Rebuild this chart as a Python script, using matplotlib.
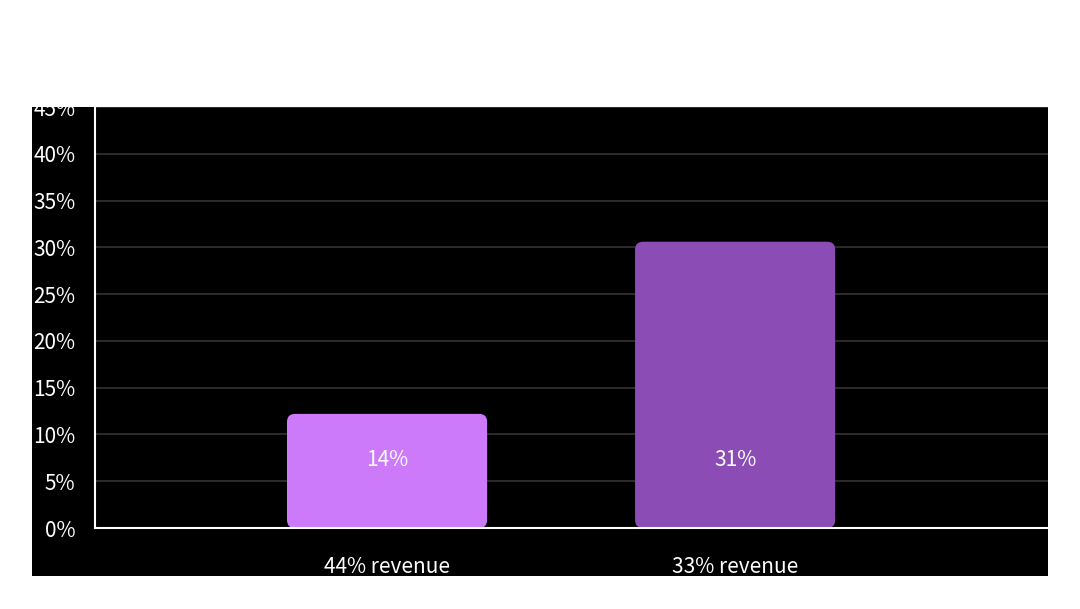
import matplotlib
matplotlib.use("Agg")
import matplotlib.pyplot as plt
from matplotlib.patches import FancyBboxPatch, Rectangle

categories = ["44% revenue", "33% revenue"]
values = [12.2, 30.6]
value_labels = ["14%", "31%"]
colors = ["#CC7AFA", "#8B4DB5"]
yticks = [0, 5, 10, 15, 20, 25, 30, 35, 40, 45]

plt.rcParams["font.family"] = "Noto Sans CJK JP"
fig = plt.figure(figsize=(10.8, 6.09), dpi=100)
fig.patch.set_facecolor("white")
fig.patches.append(Rectangle((0.0296, 0.0542), 0.9407, 0.770, transform=fig.transFigure,
                             facecolor="black", edgecolor="none", zorder=-5))
ax = fig.add_axes([0.088, 0.133, 0.8824, 0.6913])
ax.set_zorder(1)
ax.set_facecolor("black")
ax.set_xlim(-0.839, 1.899)
ax.set_ylim(0, 45)
for y in yticks[1:]:
    ax.axhline(y, color="#333333", lw=1.2, zorder=1)
w = 0.575
bars = ax.bar(range(len(values)), values, width=w, color="none")
xr = 2.738 / 953.0
yr = 45 / 421.0
for b, c in zip(bars, colors):
    x0, h = b.get_x(), b.get_height()
    p = FancyBboxPatch((x0, 0), w, h, boxstyle="round,pad=0,rounding_size=%f" % (8 * xr),
                       mutation_aspect=yr / xr, facecolor=c, edgecolor="none", zorder=2)
    ax.add_patch(p)
for i, t in enumerate(value_labels):
    ax.text(i, 7.3, t, color="white", ha="center", va="center", fontsize=15, zorder=3)
ax.set_xticks(range(len(categories)))
ax.set_xticklabels(categories, color="white", fontsize=15)
ax.tick_params(axis="x", length=0, pad=20)
ax.set_yticks(yticks)
ax.set_yticklabels([f"{v}%" for v in yticks], color="white", fontsize=15)
ax.tick_params(axis="y", length=0, pad=14)
for s in ["top", "right"]:
    ax.spines[s].set_visible(False)
for s in ["left", "bottom"]:
    ax.spines[s].set_color("white")
    ax.spines[s].set_linewidth(1.5)
fig.savefig("out.png", dpi=100)
